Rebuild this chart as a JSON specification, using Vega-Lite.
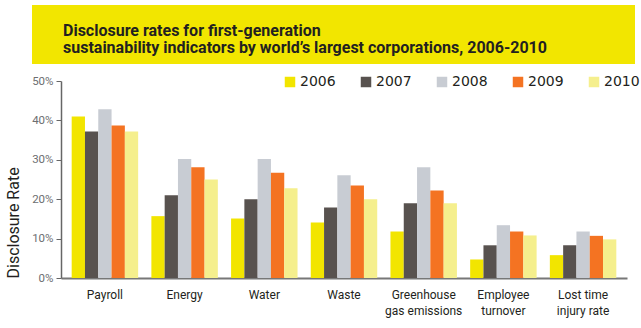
{
  "$schema": "https://vega.github.io/schema/vega-lite/v6.json",
  "padding": 5,
  "background": "white",
  "config": {"view": {"stroke": null}, "font": "Roboto"},
  "data": {"values": [
    {"indicator": "Payroll", "year": "2006", "rate": 0.410},
    {"indicator": "Payroll", "year": "2007", "rate": 0.372},
    {"indicator": "Payroll", "year": "2008", "rate": 0.428},
    {"indicator": "Payroll", "year": "2009", "rate": 0.387},
    {"indicator": "Payroll", "year": "2010", "rate": 0.372},
    {"indicator": "Energy", "year": "2006", "rate": 0.157},
    {"indicator": "Energy", "year": "2007", "rate": 0.210},
    {"indicator": "Energy", "year": "2008", "rate": 0.302},
    {"indicator": "Energy", "year": "2009", "rate": 0.281},
    {"indicator": "Energy", "year": "2010", "rate": 0.250},
    {"indicator": "Water", "year": "2006", "rate": 0.151},
    {"indicator": "Water", "year": "2007", "rate": 0.200},
    {"indicator": "Water", "year": "2008", "rate": 0.302},
    {"indicator": "Water", "year": "2009", "rate": 0.267},
    {"indicator": "Water", "year": "2010", "rate": 0.228},
    {"indicator": "Waste", "year": "2006", "rate": 0.141},
    {"indicator": "Waste", "year": "2007", "rate": 0.179},
    {"indicator": "Waste", "year": "2008", "rate": 0.261},
    {"indicator": "Waste", "year": "2009", "rate": 0.235},
    {"indicator": "Waste", "year": "2010", "rate": 0.200},
    {"indicator": "Greenhouse gas emissions", "year": "2006", "rate": 0.118},
    {"indicator": "Greenhouse gas emissions", "year": "2007", "rate": 0.190},
    {"indicator": "Greenhouse gas emissions", "year": "2008", "rate": 0.281},
    {"indicator": "Greenhouse gas emissions", "year": "2009", "rate": 0.222},
    {"indicator": "Greenhouse gas emissions", "year": "2010", "rate": 0.190},
    {"indicator": "Employee turnover", "year": "2006", "rate": 0.047},
    {"indicator": "Employee turnover", "year": "2007", "rate": 0.083},
    {"indicator": "Employee turnover", "year": "2008", "rate": 0.134},
    {"indicator": "Employee turnover", "year": "2009", "rate": 0.118},
    {"indicator": "Employee turnover", "year": "2010", "rate": 0.108},
    {"indicator": "Lost time injury rate", "year": "2006", "rate": 0.058},
    {"indicator": "Lost time injury rate", "year": "2007", "rate": 0.083},
    {"indicator": "Lost time injury rate", "year": "2008", "rate": 0.118},
    {"indicator": "Lost time injury rate", "year": "2009", "rate": 0.107},
    {"indicator": "Lost time injury rate", "year": "2010", "rate": 0.098}
  ]},
  "spacing": 11,
  "resolve": {"scale": {"color": "independent"}, "legend": {"color": "independent"}},
  "vconcat": [
    {
      "width": 603,
      "height": 59,
      "view": {"fill": "#F2E600", "stroke": null},
      "title": {
        "text": ["Disclosure rates for first-generation", "sustainability indicators by world’s largest corporations, 2006-2010"],
        "orient": "top",
        "anchor": "start",
        "frame": "group",
        "offset": -64,
        "dx": 31,
        "baseline": "alphabetic",
        "lineHeight": 17,
        "font": "Roboto",
        "fontSize": 16,
        "fontWeight": "bold",
        "color": "#231F20"
      },
      "mark": {"type": "point", "opacity": 0}
    },
    {
      "spacing": 0,
      "bounds": "flush",
      "resolve": {"scale": {"color": "independent"}, "legend": {"color": "independent"}},
      "hconcat": [
        {
          "width": 29,
          "height": 197,
          "mark": {"type": "point", "opacity": 0}
        },
        {
          "width": 566,
          "height": 197,
          "mark": {"type": "bar"},
          "encoding": {
            "x": {
              "field": "indicator", "type": "nominal", "sort": null,
              "scale": {"paddingInner": 0.166, "paddingOuter": 0.134},
              "axis": {
                "title": null, "labelAngle": 0, "ticks": false,
                "domainColor": "#777777", "domainWidth": 2,
                "labelPadding": 11, "labelBaseline": "top", "labelFontSize": 12, "labelColor": "#231F20",
                "labelLineHeight": 16,
                "labelExpr": "datum.value == 'Greenhouse gas emissions' ? ['Greenhouse', 'gas emissions'] : datum.value == 'Employee turnover' ? ['Employee', 'turnover'] : datum.value == 'Lost time injury rate' ? ['Lost time', 'injury rate'] : datum.value"
              }
            },
            "xOffset": {"field": "year", "type": "nominal", "scale": {"paddingInner": 0, "paddingOuter": 0}},
            "y": {
              "field": "rate", "type": "quantitative",
              "scale": {"domain": [0, 0.5]},
              "axis": {
                "values": [0, 0.1, 0.2, 0.3, 0.4, 0.5], "format": ".0%", "grid": false,
                "title": "Disclosure Rate", "titleFontSize": 16, "titleFontWeight": "normal", "titleColor": "#231F20",
                "titleAnchor": "start", "titlePadding": 10,
                "labelFontSize": 11.5, "labelColor": "#6D6E71", "labelPadding": 3,
                "tickSize": 5, "tickColor": "#666666", "domainColor": "#666666", "domainWidth": 1.5
              }
            },
            "color": {
              "field": "year", "type": "nominal",
              "scale": {"domain": ["2006", "2007", "2008", "2009", "2010"], "range": ["#F2E500", "#58524F", "#C8CCD3", "#F47322", "#F5EF8D"]},
              "legend": {
                "title": null, "orient": "none", "direction": "horizontal", "columns": 5,
                "legendX": 222, "legendY": -6, "padding": 0,
                "symbolType": "square", "symbolSize": 110, "symbolStrokeWidth": 0, "symbolOpacity": 1,
                "labelFont": "DejaVu Sans", "labelFontSize": 14, "labelColor": "#231F20", "labelOffset": 3,
                "columnPadding": 23
              }
            }
          }
        }
      ]
    }
  ]
}
